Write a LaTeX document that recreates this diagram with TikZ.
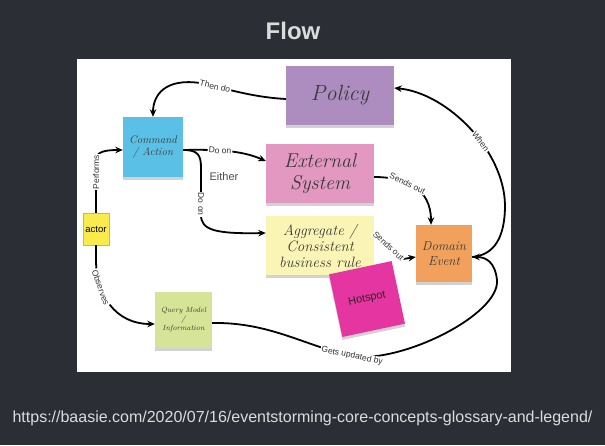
\documentclass[tikz,border=0pt]{standalone}
\usepackage{fontspec}
\usetikzlibrary{arrows.meta,shadows}
\newfontfamily\flowsans{Liberation Sans}
\definecolor{SlideBg}{HTML}{2B2E35}
\definecolor{SlideText}{HTML}{DCDCDC}
\definecolor{NoteCommand}{HTML}{5BC0E6}
\definecolor{NotePolicy}{HTML}{AD8CC0}
\definecolor{NoteExternal}{HTML}{E298C0}
\definecolor{NoteAggregate}{HTML}{FBF5B5}
\definecolor{NoteEvent}{HTML}{F1A15C}
\definecolor{NoteHotspot}{HTML}{E535A1}
\definecolor{NoteActor}{HTML}{F9EB4B}
\definecolor{NoteQuery}{HTML}{D6E497}
\definecolor{NoteInk}{HTML}{3A3A3A}

\begin{document}
\begin{tikzpicture}[x=1pt,y=-1pt,>={Stealth[length=7.5pt,width=6.5pt]},
  note/.style={drop shadow={shadow xshift=0pt,shadow yshift=-3pt,opacity=0.35},
    align=center,text=NoteInk,inner sep=2pt},
  flowline/.style={->,line width=1.8pt,line join=round},
  lbl/.style={fill=white,inner sep=1pt,text=black!80,
    font=\flowsans\fontsize{8.5}{10}\selectfont}]
\fill[SlideBg] (0,0) rectangle (605,445);
\useasboundingbox (0,0) rectangle (605,445);
\fill[white] (77,59) rectangle (511,372);
\node[font=\flowsans\bfseries\fontsize{24}{28}\selectfont,text=SlideText] (title) at (293,31) {Flow};
\node[font=\flowsans\fontsize{16}{18}\selectfont,text=SlideText] (url) at (302.5,418)
  {https://baasie.com/2020/07/16/eventstorming-core-concepts-glossary-and-legend/};

% sticky notes
\node[note,fill=NoteCommand,minimum size=60,font=\itshape\fontsize{11}{12}\selectfont] (cmd) at (153,147) {Command\\/ Action};
\node[note,fill=NotePolicy,minimum width=108,minimum height=59,font=\itshape\fontsize{22}{24}\selectfont] (policy) at (340,95.5) {Policy};
\node[note,fill=NoteExternal,minimum width=108,minimum height=59,font=\itshape\fontsize{20}{22}\selectfont] (ext) at (320,173.5) {External\\System};
\node[note,fill=NoteAggregate,minimum width=108,minimum height=59,font=\itshape\fontsize{15}{16}\selectfont] (agg) at (320,245.5) {Aggregate /\\Consistent\\business rule};
\node[note,fill=NoteEvent,minimum width=56,minimum height=57,font=\itshape\fontsize{13}{15}\selectfont] (event) at (444,253.5) {Domain\\Event};
\node[note,fill=NoteHotspot,rotate=12,minimum size=64,text=black!85,font=\flowsans\fontsize{11}{13}\selectfont] (hotspot) at (367,299) {Hotspot};
\node[fill=NoteActor,draw=gray!60,minimum width=26,minimum height=32,inner sep=1pt,font=\flowsans\fontsize{9.5}{11}\selectfont] (actor) at (96,229) {actor};
\node[note,fill=NoteQuery,minimum width=57,minimum height=56,font=\itshape\fontsize{7.5}{9}\selectfont] (query) at (183.5,320) {Query Model\\/\\Information};
\node[text=black!70,font=\flowsans\fontsize{11}{13}\selectfont] (either) at (224,177) {Either};

% connectors
\draw[flowline] ([yshift=-3.5pt]policy.west) .. controls (250,97) and (225,88) .. node[lbl,sloped,pos=0.8]{Then do} (200,83) .. controls (165,78) and (153,95) .. (cmd.north);
\draw[flowline] ([yshift=-3pt]cmd.east) .. controls (225,149) and (245,152) .. node[lbl,sloped,pos=0.35]{Do on} ([yshift=12.5pt]ext.west);
\draw[flowline] ([yshift=-3pt]cmd.east) .. controls (198,150) and (201,155) .. (201,168) -- node[lbl,sloped,pos=0.77]{Do on} (201,215) .. controls (201,230) and (215,234) .. ([yshift=12.5pt]agg.west);
\draw[flowline] (actor.north) -- node[lbl,sloped,pos=0.77]{Performs} (96,160) .. controls (96,152) and (104,150) .. ([yshift=-3pt]cmd.west);
\draw[flowline] (actor.south) -- (96,262) .. controls (97,295) and (115,324) .. node[lbl,sloped,pos=0.27]{Observes} ([yshift=-4pt]query.west);
\draw[flowline] ([yshift=-3pt]query.east) .. controls (270,322) and (305,346) .. node[lbl,sloped,pos=1]{Gets updated by} (352,356) .. controls (400,364) and (500,315) .. (497,280) .. controls (495,262) and (486,257) .. ([yshift=-3.5pt]event.east);
\draw[flowline] ([yshift=-3.5pt]event.east) .. controls (494,255) and (505,238) .. (505,205) .. controls (504,150) and (447,93) .. node[lbl,sloped,pos=0.4]{When} ([yshift=7.5pt]policy.east);
\draw[flowline] ([yshift=-3.5pt]ext.east) .. controls (405,177) and (431,188) .. node[lbl,sloped,pos=0.4]{Sends out} ([xshift=-13pt]event.north);
\draw[flowline] ([yshift=13pt]agg.east) -- node[lbl,sloped,midway]{Sends out} (403,259) -- ([yshift=-3.5pt]event.west);
\end{tikzpicture}
\end{document}
